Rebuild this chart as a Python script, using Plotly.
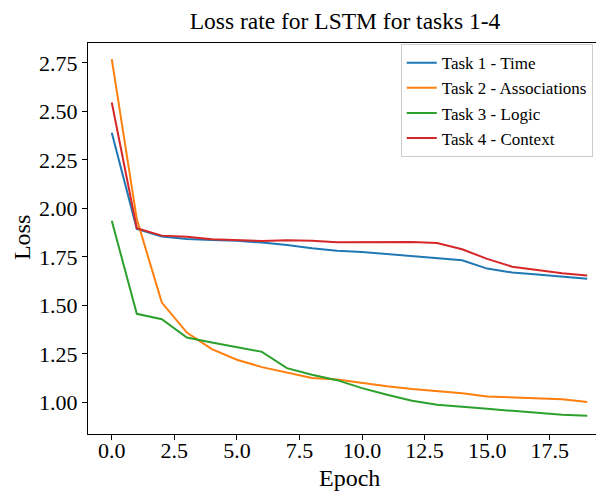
import plotly.graph_objects as go

epochs = list(range(20))

task1_time = [2.39, 1.895, 1.855, 1.843, 1.837, 1.834, 1.824, 1.812, 1.795, 1.782,
              1.776, 1.765, 1.757, 1.745, 1.733, 1.690, 1.670, 1.660, 1.649, 1.638]
task2_assoc = [2.77, 1.945, 1.515, 1.360, 1.275, 1.220, 1.182, 1.153, 1.126, 1.118,
               1.100, 1.083, 1.069, 1.060, 1.048, 1.031, 1.026, 1.019, 1.016, 1.002]
task3_logic = [1.937, 1.457, 1.429, 1.335, 1.309, 1.285, 1.261, 1.177, 1.143, 1.115,
               1.074, 1.040, 1.009, 0.988, 0.976, 0.967, 0.957, 0.948, 0.937, 0.932]
task4_context = [2.546, 1.898, 1.860, 1.854, 1.841, 1.836, 1.832, 1.836, 1.834, 1.826,
                 1.826, 1.827, 1.827, 1.822, 1.790, 1.740, 1.700, 1.683, 1.666, 1.654]

series_names = ["Task 1 - Time", "Task 2 - Associations", "Task 3 - Logic", "Task 4 - Context"]
series_values = [task1_time, task2_assoc, task3_logic, task4_context]
colors = ["#1f77b4", "#ff7f0e", "#2ca02c", "#d62728"]

title_text = "Loss rate for LSTM for tasks 1-4"
x_label = "Epoch"
y_label = "Loss"

FONT = "Liberation Serif, Times New Roman, serif"

fig = go.Figure()
for name, vals, col in zip(series_names, series_values, colors):
    fig.add_trace(go.Scatter(x=epochs, y=vals, mode="lines", name=name,
                             line=dict(color=col, width=2)))

fig.update_layout(
    width=604, height=494,
    margin=dict(l=80, r=1, t=35, b=68, autoexpand=False),
    paper_bgcolor="white", plot_bgcolor="white",
    font=dict(family=FONT, color="black", size=22),
    title=dict(text=title_text, x=337 / 604, xref="container", xanchor="center",
               y=1 - 12.5 / 494, yref="container", yanchor="middle",
               font=dict(family=FONT, size=23.5, color="black")),
    showlegend=True,
    legend=dict(x=0.598, y=0.997, xanchor="left", yanchor="top",
                bgcolor="rgba(255,255,255,0.8)", bordercolor="#cccccc", borderwidth=1,
                font=dict(family=FONT, size=17, color="black"),
                tracegroupgap=0, itemwidth=30),
    annotations=[
        dict(text=x_label, xref="paper", yref="paper", x=0.5, y=0, yshift=-44,
             xanchor="center", yanchor="middle", showarrow=False,
             font=dict(family=FONT, size=24, color="black")),
        dict(text=y_label, xref="paper", yref="paper", x=0, y=0.501, xshift=-66,
             xanchor="center", yanchor="middle", textangle=-90, showarrow=False,
             font=dict(family=FONT, size=24, color="black")),
    ],
)

fig.update_xaxes(
    range=[-0.95, 19.95], showgrid=False, zeroline=False,
    showline=True, linecolor="black", linewidth=1, mirror=True,
    ticks="outside", ticklen=5, tickwidth=1, tickcolor="black",
    tick0=0, dtick=2.5, tickformat=".1f", ticklabelstandoff=-8,
    tickfont=dict(family=FONT, size=22, color="black"),
)
fig.update_yaxes(
    range=[0.8374, 2.853], showgrid=False, zeroline=False,
    showline=True, linecolor="black", linewidth=1, mirror=False,
    ticks="outside", ticklen=5, tickwidth=1, tickcolor="black",
    tick0=0, dtick=0.25, tickformat=".2f",
    tickfont=dict(family=FONT, size=22, color="black"),
)

fig.write_html("out.html")
